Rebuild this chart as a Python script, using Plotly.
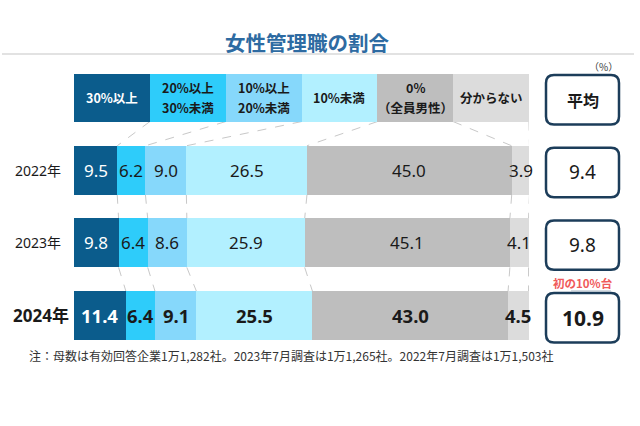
import plotly.graph_objects as go

# ---------------- data ----------------
categories = ["30%以上", "20%以上<br>30%未満", "10%以上<br>20%未満", "10%未満", "0%<br>（全員男性）", "分からない"]
years = ["2022年", "2023年", "2024年"]
v30 = [9.5, 9.8, 11.4]
v20 = [6.2, 6.4, 6.4]
v10 = [9.0, 8.6, 9.1]
vlt10 = [26.5, 25.9, 25.5]
vzero = [45.0, 45.1, 43.0]
vunk = [3.9, 4.1, 4.5]
averages = [9.4, 9.8, 10.9]
series = [v30, v20, v10, vlt10, vzero, vunk]

colors = ["#0B5C8C", "#2ECCFA", "#86D8FB", "#B2F0FF", "#BEBEBE", "#DCDCDC"]
text_colors = ["white", "#1a1a1a", "#1a1a1a", "#1a1a1a", "#1a1a1a", "#1a1a1a"]

W, H = 640, 426
NUM = "Noto Sans, Noto Sans CJK JP, sans-serif"
JP = "Noto Sans CJK JP, Noto Sans, sans-serif"

# header row is row 0, years are rows 1..3
rows = list(range(len(years) + 1))
header_share = 100 / len(categories)

fig = go.Figure()
bar_h = [0.66, 0.674, 0.674, 0.674]
for k, cat in enumerate(categories):
    fig.add_trace(go.Bar(
        orientation="h",
        y=rows,
        x=[header_share] + series[k],
        width=bar_h,
        marker=dict(color=colors[k], line=dict(width=0)),
        name=cat, showlegend=False, hoverinfo="skip",
    ))

annotations = []
shapes = []


def ann(**kw):
    d = dict(showarrow=False, xanchor="center", yanchor="middle")
    d.update(kw)
    annotations.append(d)


def cums(vals):
    out, s = [0], 0
    for v in vals:
        s += v
        out.append(s)
    return out


row_vals = [[header_share] * len(categories)] + [[series[k][i] for k in range(len(categories))] for i in range(len(years))]
row_cums = [cums(r) for r in row_vals]

# header labels (each line placed separately for looser line spacing)
for k, cat in enumerate(categories):
    c = row_cums[0]
    lines = cat.split("<br>")
    shifts = [0] if len(lines) == 1 else [10, -10]
    for line, sh in zip(lines, shifts):
        ann(x=(c[k] + c[k + 1]) / 2, y=0, xref="x", yref="y", yshift=sh,
            text="<b>" + line + "</b>",
            font=dict(family=JP, size=12.5, color=text_colors[k]))

# values inside bars and year labels
for i in range(len(years)):
    c = row_cums[i + 1]
    bold = i == len(years) - 1
    for k in range(len(categories)):
        v = row_vals[i + 1][k]
        ann(x=(c[k] + c[k + 1]) / 2, y=i + 1, xref="x", yref="y",
            text=("<b>%.1f</b>" if bold else "%.1f") % v,
            font=dict(family=NUM, size=18.5 if bold else 17, color=text_colors[k]))
    ann(x=(71 if bold else 63) / W, y=i + 1, xref="paper", yref="y", xanchor="right",
        text=("<b>%s</b>" if bold else "%s") % years[i],
        font=dict(family=NUM, size=17 if bold else 14, color="#1a1a1a"))

# dashed connectors between rows
half = [0.33, 0.337, 0.337, 0.337]
for r in range(len(rows) - 1):
    a, b = row_cums[r], row_cums[r + 1]
    for k in range(1, len(categories) + 1):
        shapes.append(dict(
            type="line", xref="x", yref="y",
            x0=a[k], y0=r + half[r], x1=b[k], y1=r + 1 - half[r + 1],
            line=dict(color="#C8C8C8", width=1, dash="dash"), layer="below",
        ))

# average boxes (rounded)
bx0, bx1 = 546 / W, 619 / W
rx, ry = 8 / W, 8 / 72.67
for r in rows:
    yc = r + 0.03
    y0, y1 = yc - 0.34, yc + 0.34
    path = (f"M {bx0+rx},{y0} L {bx1-rx},{y0} Q {bx1},{y0} {bx1},{y0+ry} "
            f"L {bx1},{y1-ry} Q {bx1},{y1} {bx1-rx},{y1} L {bx0+rx},{y1} "
            f"Q {bx0},{y1} {bx0},{y1-ry} L {bx0},{y0+ry} Q {bx0},{y0} {bx0+rx},{y0} Z")
    shapes.append(dict(type="path", xref="paper", yref="y", path=path,
                       line=dict(color="#1C3D5A", width=2.5), fillcolor="white"))
    if r == 0:
        txt, fnt = "<b>平均</b>", dict(family=JP, size=16, color="#1a1a1a")
    else:
        bold = r == len(rows) - 1
        txt = ("<b>%.1f</b>" if bold else "%.1f") % averages[r - 1]
        fnt = dict(family=NUM, size=21 if bold else 19, color="#1a1a1a")
    ann(x=(bx0 + bx1) / 2, y=yc, xref="paper", yref="y", text=txt, font=fnt)

# title, unit, note, footnote
ann(x=307 / W, y=1 - 42 / H, xref="paper", yref="paper", text="<b>女性管理職の割合</b>",
    font=dict(family=JP, size=20.5, color="#2E6BA2"))
ann(x=603 / W, y=1 - 66 / H, xref="paper", yref="paper", text="（%）",
    font=dict(family=JP, size=10, color="#404040"))
ann(x=583 / W, y=1 - 283 / H, xref="paper", yref="paper", text="<b>初の10%台</b>",
    font=dict(family=JP, size=11.5, color="#F05A5A"))
ann(x=27 / W, y=1 - 355 / H, xref="paper", yref="paper", xanchor="left",
    text="注：母数は有効回答企業1万1,282社。2023年7月調査は1万1,265社。2022年7月調査は1万1,503社",
    font=dict(family=JP, size=12, color="#333333"))

shapes += [
    dict(type="line", xref="paper", yref="paper", x0=2 / W, x1=634 / W,
         y0=1 - 54 / H, y1=1 - 54 / H, line=dict(color="#D8D8D8", width=1.5)),
    dict(type="line", xref="paper", yref="paper", x0=571 / W, x1=611 / W,
         y0=1 - 291 / H, y1=1 - 291 / H, line=dict(color="#A9B7C6", width=1.2)),
]

fig.update_layout(
    width=W, height=H,
    margin=dict(l=0, r=0, t=0, b=0),
    barmode="stack",
    plot_bgcolor="white", paper_bgcolor="white",
    xaxis=dict(domain=[74 / W, 529 / W], range=[0, 100], visible=False, fixedrange=True),
    yaxis=dict(domain=[0, 1], range=[(H - 97.6) / 72.67, -97.6 / 72.67], visible=False, fixedrange=True),
    annotations=annotations,
    shapes=shapes,
)

fig.write_html("out.html")
